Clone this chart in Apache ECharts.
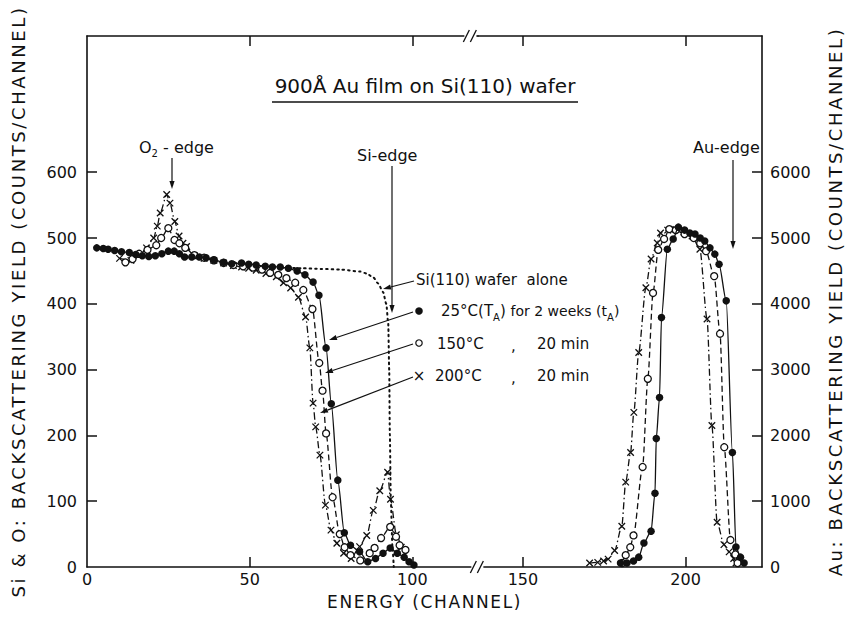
<!DOCTYPE html>
<html>
<head>
<meta charset="utf-8">
<script src="https://cdn.jsdelivr.net/npm/echarts@6/dist/echarts.min.js"></script>
<style>
html, body { margin: 0; padding: 0; background: #fff; }
#chart { width: 852px; height: 621px; }
/* the axis titles are lettered with wide spacing in the original */
#chart text[style*="18px"] { letter-spacing: 2.6px; }
#chart text[style*="17px"] { letter-spacing: 1.6px; }
</style>
</head>
<body>
<div id="chart"></div>
<script>
// ticks
const xTicks = [0, 50, 100, 150, 200]
const leftTicks = [0, 100, 200, 300, 400, 500, 600]
const rightTicks = [0, 1000, 2000, 3000, 4000, 5000, 6000]
const channelBreak = [120, 136]

// Si & O part, counts/channel (left axis)
const wafer = [[60,455],[66,454],[72,453],[78,452],[84,449],[86,446],[88,440],[89.5,431],[91,418],[92,400],[92.6,370],[92.9,300],[93.1,200],[93.4,100],[93.9,30],[94.3,0]]
const si25 = [[3,485],[5,484],[6.5,483],[8.5,481],[10.6,479],[13,478],[15,475],[17,473],[19,472],[21,473],[23,476],[25,480],[26.8,480],[28.4,476],[30,471],[32.2,471],[34.5,471],[36.6,470],[39,467],[42,463],[44.5,461],[47.5,462],[49.7,460],[52,459],[54.8,457],[57,456],[59.4,456],[61.9,454],[64.6,450],[67,444],[69.5,433],[71.3,413],[73.5,333],[75.1,248],[77.1,132],[79.1,52],[81,33],[83.8,23],[86.3,8],[88.7,13],[91,21],[93.2,29],[95.4,21],[97.5,15],[99,8],[100.5,3]]
const si150 = [[11.8,463],[14,468],[16,476],[18.6,482],[21.3,489],[22.8,500],[25,515],[26.9,497],[28.4,492],[30.2,485],[33,474],[36,470],[39,466],[42,462],[45,459],[48,457],[51,455],[53.8,452],[56.3,447],[58.8,444],[61.3,439],[64,432],[66.5,421],[69.3,392],[71.4,310],[72.4,268],[73.5,203],[75.5,106],[77.7,50],[79.2,30],[81,18],[84,10],[86.9,21],[88.4,29],[90.4,44],[93.2,61],[95,46],[96.1,33],[97.9,26]]
const si200 = [[10,469],[13.5,466],[16,474],[18.3,485],[20.5,500],[21.6,518],[22.5,538],[24.5,566],[25.5,553],[27,525],[28.3,503],[29.5,492],[30.6,487],[33,473],[36,469],[39,466],[42,462],[45,458],[47.5,456],[49.7,454],[52,451],[55,446],[58.2,441],[60.4,432],[62.6,424],[65,410],[67.2,380],[68.5,333],[69.5,249],[70.3,213],[71.6,170],[73.3,94],[75,56],[76.8,36],[78.9,21],[81.2,13],[83.8,31],[86,48],[88,86],[90,116],[92.4,144],[93.3,103],[95.1,49],[96.6,30]]

// Au part, counts/channel (right axis)
const au25 = [[180,60],[182,60],[184,90],[185.6,150],[187.2,364],[189.4,545],[190.6,1120],[191,1954],[192,2575],[192.6,3790],[194.4,4830],[196.2,4985],[197.8,5165],[199.7,5120],[201.3,5075],[202.9,5060],[204.5,5000],[205.9,4955],[207.5,4850],[209,4755],[210.3,4600],[212.5,4045],[214.4,1740],[215.5,303],[216.9,150],[218,60]]
const au150 = [[180.5,60],[181.6,180],[183,300],[184,480],[186.8,1520],[188.4,2860],[190,4165],[191.6,4820],[193.4,4985],[195,5135],[197,5120],[199.7,5060],[202.5,5000],[204.5,4920],[206.3,4800],[208.8,4420],[210.6,3545],[211.9,1820],[213.8,410],[215.3,190],[216,60]]
const au200 = [[170.5,60],[173,70],[174.8,90],[176.2,120],[178.2,250],[180.4,620],[181.6,1290],[183.1,1740],[184.1,2350],[185.6,3260],[187.8,4245],[189.4,4680],[191.3,4925],[192.3,5075],[194.5,5120],[197,5130],[199.5,5090],[202,5030],[204.4,4830],[206.6,3770],[208.1,2150],[209.7,680],[211.8,340],[213.4,230],[214.8,130],[215.5,60]]

const ink = '#111'
const fam = '"DejaVu Sans", sans-serif'
const crossPath = 'path://M0,0L10,10M10,0L0,10'

const chart = echarts.init(document.getElementById('chart'), null, { renderer: 'svg' })

function curve(name, data, yAxisIndex, kind) {
  const s = {
    name, type: 'line', data, yAxisIndex, silent: true,
    smooth: 0.25, smoothMonotone: 'x', showSymbol: true,
    lineStyle: { color: ink, width: 1.3 },
    emphasis: { disabled: true }
  }
  if (kind === 'filled') {
    s.symbol = 'circle'; s.symbolSize = 7.5; s.z = 4
    s.itemStyle = { color: ink, borderWidth: 0 }
  } else if (kind === 'open') {
    s.symbol = 'circle'; s.symbolSize = 7; s.z = 3
    s.itemStyle = { color: '#fff', borderColor: ink, borderWidth: 1.3 }
    s.lineStyle.type = [6, 3.5]
  } else {
    s.symbol = crossPath; s.symbolSize = 6.5; s.z = 2
    s.itemStyle = { color: 'none', borderColor: ink, borderWidth: 1.3 }
    s.lineStyle.type = [7, 3, 1.5, 3]
  }
  return s
}

function xAxisOf(position) {
  return {
    type: 'value', position, min: 0, max: 223.5, interval: 50,
    breaks: [{ start: channelBreak[0], end: channelBreak[1], gap: 0 }],
    breakArea: { show: false },
    splitLine: { show: false },
    axisLine: { show: true, onZero: false, lineStyle: { color: ink, width: 1.6 } },
    axisTick: { show: true, inside: true, length: 10, customValues: xTicks.slice(1), lineStyle: { color: ink, width: 1.5 } },
    axisLabel: {
      show: position === 'bottom', customValues: xTicks, margin: 4,
      color: ink, fontSize: 16, fontFamily: fam, formatter: (v) => String(v)
    },
    name: position === 'bottom' ? 'ENERGY (CHANNEL)' : '',
    nameLocation: 'middle', nameGap: 26,
    nameTextStyle: { color: ink, fontSize: 17, fontFamily: fam }
  }
}

function yAxisOf(position, max, ticks, name, gap) {
  return {
    type: 'value', position, min: 0, max, interval: max / 8.07,
    splitLine: { show: false },
    axisLine: { show: true, onZero: false, lineStyle: { color: ink, width: 1.6 } },
    axisTick: { show: true, inside: true, length: 10, customValues: ticks.slice(1), lineStyle: { color: ink, width: 1.5 } },
    axisLabel: {
      customValues: ticks, margin: position === 'left' ? 10 : 8,
      color: ink, fontSize: 16, fontFamily: fam, formatter: (v) => String(v)
    },
    name, nameLocation: 'middle', nameRotate: 90, nameGap: gap,
    nameTextStyle: { color: ink, fontSize: 18, fontFamily: fam }
  }
}

chart.setOption({
  animation: false,
  backgroundColor: '#fff',
  grid: { left: 87, right: 89, top: 36, bottom: 54 },
  xAxis: [xAxisOf('bottom'), xAxisOf('top')],
  yAxis: [
    yAxisOf('left', 807, leftTicks, 'Si & O: BACKSCATTERING YIELD (COUNTS/CHANNEL)', 60),
    yAxisOf('right', 8070, rightTicks, 'Au: BACKSCATTERING YIELD (COUNTS/CHANNEL)', 64)
  ],
  series: [
    {
      name: 'Si(110) wafer alone', type: 'line', data: wafer, silent: true,
      smooth: 0.25, smoothMonotone: 'x', showSymbol: false, z: 1,
      lineStyle: { color: ink, width: 2, type: [1.5, 4], cap: 'round' }
    },
    curve('25°C', si25, 0, 'filled'),
    curve('150°C', si150, 0, 'open'),
    curve('200°C', si200, 0, 'cross'),
    curve('25°C Au', au25, 1, 'filled'),
    curve('150°C Au', au150, 1, 'open'),
    curve('200°C Au', au200, 1, 'cross')
  ]
})

// annotation helpers (pixel space)
function txt(x, y, text, size, align, rich) {
  return {
    type: 'text', x, y, silent: true, z: 10,
    style: { text, fontSize: size, fontFamily: fam, fill: ink, align: align || 'left', verticalAlign: 'middle', rich }
  }
}
function arrow(x1, y1, x2, y2) {
  const a = Math.atan2(y2 - y1, x2 - x1), L = 8, W = 2.6
  const bx = x2 - L * Math.cos(a), by = y2 - L * Math.sin(a)
  return [
    { type: 'line', silent: true, z: 10, shape: { x1, y1, x2: bx, y2: by }, style: { stroke: ink, lineWidth: 1.2 } },
    { type: 'polygon', silent: true, z: 10,
      shape: { points: [[x2, y2], [bx + W * Math.sin(a), by - W * Math.cos(a)], [bx - W * Math.sin(a), by + W * Math.cos(a)]] },
      style: { fill: ink } }
  ]
}
const tok = (size) => ({ fontSize: size, fontFamily: fam, color: ink, verticalAlign: 'middle', lineHeight: 18 })
const sub = { fontSize: 10, fontFamily: fam, color: ink, verticalAlign: 'bottom', lineHeight: 22 }

const bx = chart.convertToPixel({ xAxisIndex: 0 }, channelBreak[0])
const yb = chart.convertToPixel({ yAxisIndex: 0 }, 0)
const yt = chart.convertToPixel({ yAxisIndex: 0 }, 807)
function breakMark(x, y) {
  return [
    { type: 'rect', silent: true, z: 20, shape: { x: x - 6, y: y - 3, width: 12, height: 6 }, style: { fill: '#fff' } },
    { type: 'line', silent: true, z: 21, shape: { x1: x - 7, y1: y + 6, x2: x - 1, y2: y - 6 }, style: { stroke: ink, lineWidth: 1.3 } },
    { type: 'line', silent: true, z: 21, shape: { x1: x, y1: y + 6, x2: x + 6, y2: y - 6 }, style: { stroke: ink, lineWidth: 1.3 } }
  ]
}

const elements = [
  txt(425, 86, '900Å Au film on Si(110) wafer', 20, 'center'),
  { type: 'line', silent: true, shape: { x1: 272, y1: 102, x2: 578, y2: 102 }, style: { stroke: ink, lineWidth: 1.3 } },

  txt(139, 147, '{a|O}{s|2}{a| - edge}', 16, 'left', { a: tok(16), s: sub }),
  ...arrow(172, 158, 172, 189),
  txt(357, 155, 'Si-edge', 16, 'left'),
  ...arrow(392, 166, 392, 313),
  txt(693, 147, 'Au-edge', 16, 'left'),
  ...arrow(733, 160, 733, 249),

  txt(416, 280, 'Si(110) wafer  alone', 15, 'left'),
  ...arrow(414, 281, 383, 289),

  { type: 'circle', silent: true, z: 10, shape: { cx: 419, cy: 311, r: 3.8 }, style: { fill: ink } },
  txt(441, 311, '{a|25°C(T}{s|A}{a|) }{m|for 2 weeks (t}{s|A}{m|)}', 15, 'left', { a: tok(15), m: tok(14), s: sub }),
  ...arrow(413, 312, 329, 340),

  { type: 'circle', silent: true, z: 10, shape: { cx: 419, cy: 343, r: 3.2 }, style: { fill: '#fff', stroke: ink, lineWidth: 1.2 } },
  txt(437, 344, '150°C', 15, 'left'),
  txt(511, 346, ',', 15, 'left'),
  txt(537, 344, '20 min', 15, 'left'),
  ...arrow(413, 344, 325, 373),

  { type: 'text', silent: true, z: 10, x: 419, y: 376, style: { text: '×', fontSize: 15, fontFamily: fam, fill: ink, align: 'center', verticalAlign: 'middle' } },
  txt(435, 376, '200°C', 15, 'left'),
  txt(511, 378, ',', 15, 'left'),
  txt(537, 376, '20 min', 15, 'left'),
  ...arrow(413, 377, 320, 413),

  ...breakMark(bx, yb),
  ...breakMark(bx - 7, yt)
]

chart.setOption({ graphic: { elements } })
</script>
</body>
</html>
